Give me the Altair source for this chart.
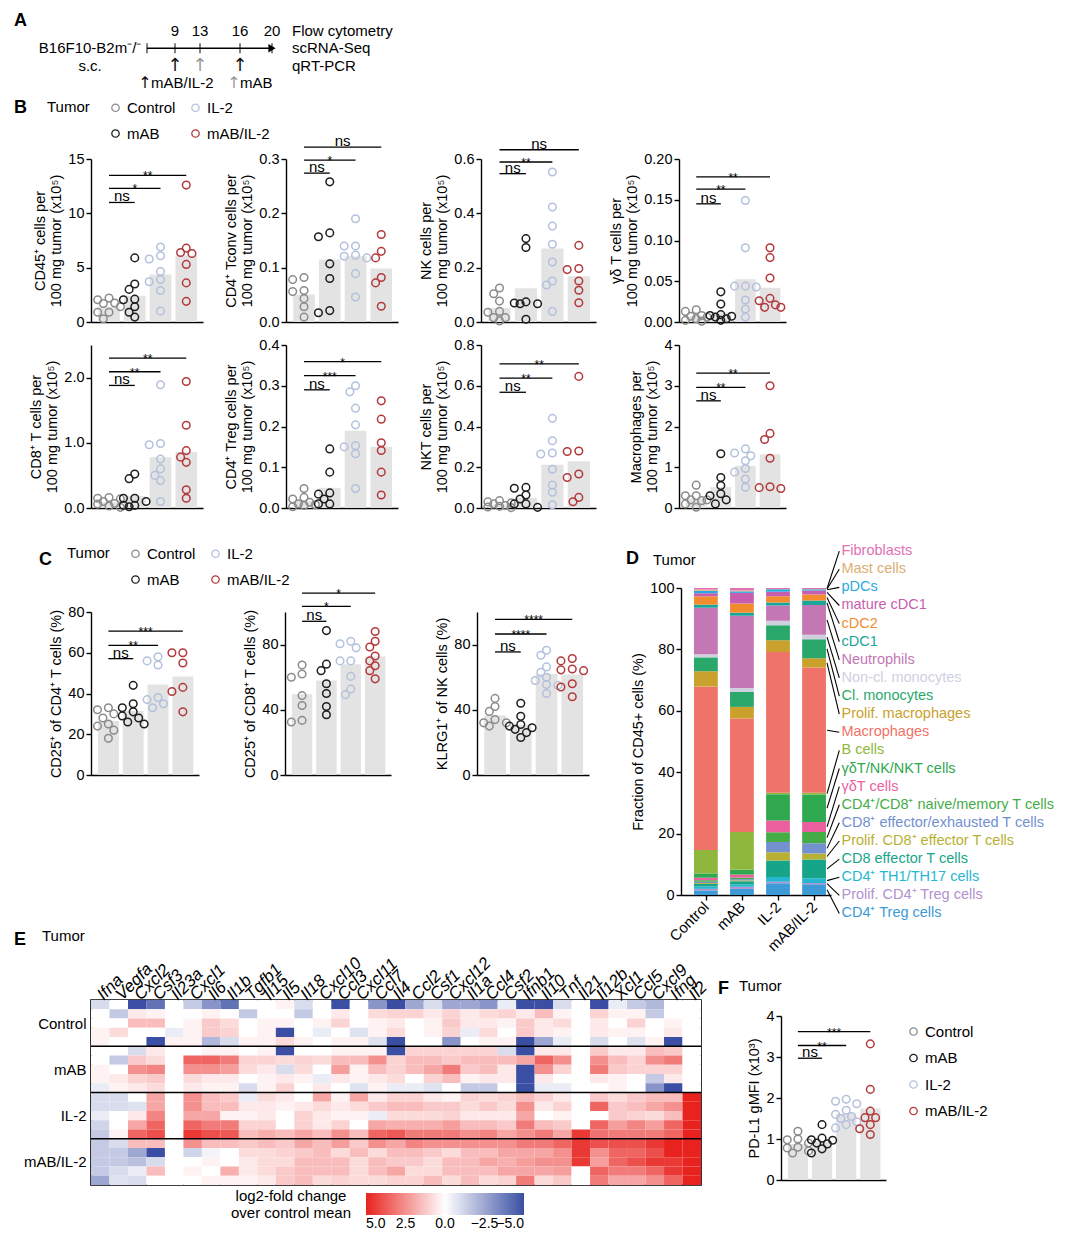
import altair as alt
import pandas as pd
import numpy as np

FONT = "Liberation Sans"
GROUPS = ["Control", "mAB", "IL-2", "mAB/IL-2"]
COLORS = {"Control": "#8c8c8c", "mAB": "#1e1e1e", "IL-2": "#b4c1dc", "mAB/IL-2": "#b3393b"}
BAR_COLOR = "#e3e3e3"

# ---------------- Panel A (timeline) ----------------
LANES = ["days", "line", "arrows", "legend"]
day_ticks = [9, 13, 16, 20]
line_days = [0, 9, 13, 16, 20]
dose_days = [9, 13, 16]
dose_kind = ["mAB/IL-2", "mAB", "mAB/IL-2"]
readouts = ["Flow cytometry", "scRNA-Seq", "qRT-PCR"]
model_text = ["B16F10-B2m⁻/⁻", "s.c."]
dose_legend = ["mAB/IL-2", "mAB"]

# ---------------- Panel B ----------------
cd45 = {"Control": [2.2, 2.05, 1.75, 1.7, 1.4, 0.9, 0.9, 0.3],
        "mAB": [5.9, 3.5, 3.0, 2.1, 2.05, 1.4, 0.9, 0.45],
        "IL-2": [6.9, 6.1, 5.8, 4.65, 3.9, 3.7, 2.9, 1.0],
        "mAB/IL-2": [12.6, 6.8, 6.4, 6.3, 5.3, 3.6, 1.9]}
tconv = {"Control": [0.082, 0.078, 0.058, 0.056, 0.043, 0.028, 0.009],
         "mAB": [0.258, 0.164, 0.157, 0.107, 0.080, 0.021, 0.017],
         "IL-2": [0.19, 0.14, 0.14, 0.123, 0.121, 0.118, 0.089, 0.046],
         "mAB/IL-2": [0.161, 0.130, 0.118, 0.082, 0.072, 0.029]}
nk = {"Control": [0.125, 0.104, 0.077, 0.039, 0.036, 0.016, 0.016, 0.004],
      "mAB": [0.307, 0.274, 0.074, 0.07, 0.067, 0.067, 0.01],
      "IL-2": [0.552, 0.423, 0.353, 0.286, 0.221, 0.151, 0.136, 0.039],
      "mAB/IL-2": [0.282, 0.197, 0.193, 0.151, 0.117, 0.071]}
gdt = {"Control": [0.015, 0.013, 0.008, 0.007, 0.006, 0.004, 0.002, 0.001],
       "mAB": [0.037, 0.022, 0.009, 0.008, 0.007, 0.006, 0.004, 0.002],
       "IL-2": [0.149, 0.091, 0.044, 0.043, 0.044, 0.027, 0.016, 0.006],
       "mAB/IL-2": [0.091, 0.079, 0.054, 0.029, 0.026, 0.021, 0.018, 0.018]}
cd8 = {"Control": [0.16, 0.15, 0.14, 0.1, 0.07, 0.06, 0.03, 0.01],
       "mAB": [0.52, 0.45, 0.15, 0.15, 0.1, 0.04, 0.04, 0.02],
       "IL-2": [1.89, 0.99, 0.97, 0.75, 0.6, 0.5, 0.42, 0.1],
       "mAB/IL-2": [1.94, 1.27, 0.88, 0.78, 0.70, 0.28, 0.15]}
treg = {"Control": [0.048, 0.026, 0.022, 0.014, 0.01, 0.008, 0.006, 0.003],
        "mAB": [0.145, 0.088, 0.037, 0.034, 0.022, 0.01, 0.01],
        "IL-2": [0.30, 0.285, 0.245, 0.204, 0.153, 0.15, 0.133, 0.048],
        "mAB/IL-2": [0.263, 0.218, 0.16, 0.141, 0.088, 0.032]}
nkt = {"Control": [0.036, 0.03, 0.025, 0.02, 0.012, 0.008, 0.005, 0.002],
       "mAB": [0.101, 0.097, 0.064, 0.044, 0.02, 0.02, 0.003],
       "IL-2": [0.44, 0.33, 0.27, 0.265, 0.19, 0.113, 0.077, 0.016],
       "mAB/IL-2": [0.646, 0.28, 0.277, 0.167, 0.15, 0.052, 0.031]}
macro = {"Control": [0.56, 0.30, 0.30, 0.2, 0.2, 0.18, 0.1, 0.02],
         "mAB": [1.33, 0.75, 0.55, 0.35, 0.3, 0.2, 0.1],
         "IL-2": [1.45, 1.35, 1.28, 1.16, 0.97, 0.88, 0.71, 0.51],
         "mAB/IL-2": [3.0, 1.83, 1.68, 1.22, 0.52, 0.5, 0.48]}

# ---------------- Panel C ----------------
cd25_cd4 = {"Control": [33, 32, 30, 28, 25, 24, 22, 18],
            "mAB": [44, 35, 33, 31, 29, 28, 26, 25],
            "IL-2": [58, 56, 54, 38, 37, 35, 33],
            "mAB/IL-2": [60, 60, 55, 43, 41, 31]}
cd25_cd8 = {"Control": [67.5, 62, 60, 48.7, 42.6, 33.5, 32.5],
            "mAB": [88.6, 68, 64, 56, 50, 42, 37],
            "IL-2": [82, 80.5, 78, 70, 70, 60.5, 52.7, 49.3],
            "mAB/IL-2": [88, 82, 78.5, 73, 70, 67, 64, 59]}
klrg1 = {"Control": [47, 42, 39, 34, 32, 32, 30],
         "mAB": [44, 36, 31, 30, 29, 28, 26, 23],
         "IL-2": [76.5, 73.5, 66.3, 63, 60, 58, 55.5, 55, 50],
         "mAB/IL-2": [71.5, 70, 65, 64.5, 64, 56, 54, 48]}

# ---------------- Panel F ----------------
pdl1 = {"Control": [1.19, 1.0, 0.98, 0.9, 0.8, 0.78, 0.71, 0.66],
        "mAB": [1.35, 1.02, 0.98, 0.97, 0.9, 0.88, 0.76, 0.66],
        "IL-2": [1.97, 1.92, 1.86, 1.7, 1.6, 1.55, 1.5, 1.42, 1.35, 1.27],
        "mAB/IL-2": [3.32, 2.21, 1.68, 1.52, 1.52, 1.35, 1.25, 1.11]}

# ---------------- Panel D ----------------
D_CELLS = ["CD4⁺ Treg cells", "Prolif. CD4⁺ Treg cells", "CD4⁺ TH1/TH17 cells",
           "CD8 effector T cells", "Prolif. CD8⁺ effector T cells",
           "CD8⁺ effector/exhausted T cells", "CD4⁺/CD8⁺ naive/memory T cells",
           "γδT cells", "γδT/NK/NKT cells", "B cells", "Macrophages",
           "Prolif. macrophages", "Cl. monocytes", "Non-cl. monocytes", "Neutrophils",
           "cDC1", "cDC2", "mature cDC1", "pDCs", "Mast cells", "Fibroblasts"]
D_COLORS = ["#3d9ad6", "#b391cf", "#26b7d0", "#17a589", "#b8b032", "#7390cf", "#45ad48",
            "#ec5f9e", "#2fa84f", "#8fb73e", "#f07369", "#c9a12c", "#2aa86b", "#cfd0de",
            "#c377b5", "#1ba59a", "#f28c2f", "#c85eb0", "#2aa9e0", "#dcae72", "#e371b4"]
d_control = [1.5, 0.5, 0.8, 0.8, 0.3, 0.4, 0.5, 0.8, 1.4, 7.6, 53.0, 5.0, 4.5, 1.0, 15.1, 1.0, 2.7, 1.0, 0.8, 0.4, 0.5]
d_mab = [2.0, 0.7, 0.8, 1.0, 0.3, 0.4, 0.5, 1.0, 1.6, 12.4, 37.2, 3.8, 4.9, 1.3, 23.7, 1.0, 3.0, 3.5, 0.5, 0.3, 0.8]
d_il2 = [3.8, 0.5, 1.6, 5.4, 2.7, 3.3, 3.2, 3.8, 8.6, 0.5, 46.0, 3.8, 4.9, 1.5, 5.0, 1.0, 2.0, 1.5, 0.8, 0.1, 0.3]
d_combo = [3.5, 0.4, 1.6, 6.1, 2.0, 3.3, 3.7, 3.3, 9.0, 0.5, 41.0, 3.0, 6.2, 1.5, 9.7, 1.5, 2.0, 1.3, 0.4, 0.1, 0.3]

# ---------------- Panel E ----------------
GENES = ["Ifna", "Vegfa", "Cxcl2", "Csf3", "Il23a", "Cxcl1", "Il6", "Il1b", "Tgfb1", "Il15", "Il5",
         "Il18", "Cxcl10", "Ccl3", "Cxcl11", "Ccl7", "Il4", "Ccl2", "Csf1", "Cxcl12", "Il1a", "Ccl4",
         "Csf2", "Ifnb1", "Il10", "Tnf", "Il21", "Il12b", "Xcl1", "Ccl5", "Cxcl9", "Ifng", "Il2"]
hm_control = [
    [-1, 0, -5, -4, 0, -1.5, -3, -4, 0, 0, 0.3, -1, 0, -5, 0, -3, -5, -2.5, -1, -2.5, -2.5, -3, -0.5, -5, -5, -1, 0, -5, -0.5, -1.5, -2, 0, 0],
    [0, -1.5, 0.5, 0.3, 0, 0, 0.3, 0, -1.5, 0, 0, -1.5, 0, 0.5, 0, 0.8, 1, 1, 0.5, 1, 0.5, 0.8, 1, 0.5, 1.5, 0.3, 0, 1, 0.3, 0.3, -1.5, 0, 0],
    [0, 0, 1.5, 1.5, 0, 0.3, 1.2, 0.8, 0, 0.3, 0.3, 0, 0.3, 1.0, 0, 0.3, 0.5, 0, 0.3, 1.2, 0.5, 0.5, 0.3, 1.2, 0.5, 0.8, 0, 0.5, 0, 1, 0, 0.3, 0],
    [0.3, 0.8, 0, 0, -0.5, 0.3, 1.2, 1.0, 0, 0.3, -5, 0, -0.5, 0, -0.8, 0.3, 0.8, 0, 0.3, 1.0, -0.5, 0.8, 0, 1.2, 0.5, 0.3, 0, 0.5, 0.3, 0.3, 0, 0.5, 0],
    [0.3, 0, 0, -5, 0.3, 0.3, -2, -1, 0.3, 0.3, 0.8, 0.3, 0, 0.3, 0.3, -0.8, -5, 0, 0, -3, 0, 0.3, 0.3, -5, -2.5, -0.5, 0, -1, 0, -0.8, 0.3, -5, 0],
]
hm_mab = [
    [0, 0, -1, 0.5, 0, 0, 0.3, 0.3, 0, 0.3, -5, 0, 0, 0.3, 0.3, 0.3, -5, 1, 1, 1, 1, 1, -1, -5, 0.5, 0.5, 0, 1.2, 0.5, 0.5, 1.5, 1.2, 0],
    [0, -1.5, 1.2, 0.8, 0, 3.5, 3.5, 3, 1, 1, 0.8, 1, 0.8, 1.5, 1.5, 2.5, 1, 1.5, 1.5, 1.2, 1.5, 1.5, 1.5, 2, 3.5, 2.5, 0, 2.5, 1.5, 1, 2.5, 3, 0],
    [0.3, 0, 2.5, 2.8, 0, 2.5, 2.5, 2.2, 0.8, 0.5, -1, 0.8, 0, 2.2, 0.3, 1.5, 1, 1.5, 2, 3, 1.2, 1.5, 0.5, -5, 2.5, 1, 0, 3, 1.2, 1, 1, 1, 0],
    [0.3, 0.5, 1, 1.2, 0, 0.8, 0.5, 0.5, 0, 0.3, 0.5, 0.3, -0.5, 0.5, 0.3, 0.5, 0.8, 0, 1, 1.5, 0.3, 0.5, 0.5, -5, 0.5, 0, 0, 0.5, 0.3, 0, -1.5, 0.5, 0],
    [-0.5, 0.3, 0.5, 0.8, 0, 0.5, 0.3, 0.3, -1, 0.3, 1, 0, 0.5, 0, -0.8, 0.3, -0.5, -0.5, -0.8, 0, -1.5, -1.5, 0, -5, -0.5, -0.5, 0, 0, 0.3, 0, -3, -5, 0],
]
hm_il2 = [
    [-1, -1, 0, 2, 0, 2.5, 1.5, 1.2, -0.5, 0.8, 0.5, 0, 2, 0.3, 2, 0.5, 1, 1, 0.5, 0.3, 1, 0.8, 1, 1.5, 1, 0.5, 0, 1.2, 0.8, 1.2, 1.5, 1.5, 5],
    [-1, -1, -0.8, 2, 0, 2.5, 1.5, 1.5, 0.5, 0.5, 0.3, 0.5, 0.8, 0.5, 0.8, 1.2, 1.5, 1.5, 1.2, 1.2, 0.8, 1.2, 0.8, 2.5, 0.5, 1, 0, 3.5, 1.2, 1.5, 2, 2.5, 5],
    [-0.5, 0, 0.5, 2.8, 0, 2, 2, 0.3, 0.3, 0.5, 0, 1, 0.5, 0.3, 0.3, -0.5, 0.8, 0.8, 0.8, 1, 0.5, 0.5, 0.5, 2, 0, 0.3, 0, 0, 1.2, 1, 0.8, 1.5, 5],
    [-1.2, 0, 2, 3.5, 0, 3.5, 3, 3, 1, 1, 0, 1, 0.5, 1, 0, 2, 1.8, 1.8, 1.8, 2.2, 1.5, 1.5, 1.2, 3, 1.5, 1.2, 0, 3.5, 2.2, 2.8, 2.2, 3.5, 5],
    [-1.5, 0.3, 3.5, 4, 0, 4.5, 4, 3.8, 1.5, 1.8, 1.5, 2, 1.5, 2.5, 1.5, 3.5, 3.8, 3, 3, 3, 2.5, 2.8, 2, 2.5, 3, 2, 4.5, 3.2, 3, 3, 3, 3.5, 5],
]
hm_combo = [
    [-1.5, -1, 1.5, 1.5, 0, 2.5, 1.5, 1.5, 1.2, 1.5, 1.2, 2, 1.5, 2.2, 1.2, 2.5, 2, 2.8, 2.5, 2.5, 2.5, 2.5, 2.5, 3, 3, 3.5, 4.5, 4, 4, 4, 4.5, 5, 5],
    [-1.5, -1.5, -2.5, -5, 0, -1.2, -0.3, 0, 0.8, 0.8, 1, 1.2, 1.5, 0.8, 1.5, 0.8, 1.5, 1.5, 1.2, 0.8, 1.5, 1.5, 2, 2, 2, 2.5, 4.5, 2.5, 3.5, 3.5, 4, 5, 5],
    [-1.5, -1.5, -1.8, -1, 0, 0, 0.3, 0, 0.5, 0.8, 0.8, 1.5, 1.5, 1.5, 0.8, 1.5, 1.2, 1.2, 0.8, 1.5, 1.5, 2, 1.8, 2.2, 2.5, 2.5, 4.5, 2.2, 3.5, 4, 4.5, 4.5, 5],
    [-1.5, -1, -0.5, 1.5, 0, 0.3, 0, 1.8, 0.5, 0.8, 1.2, 1.5, 1.5, 1.5, 0.8, 1.5, 2, 0.8, 0.8, 1.5, 1.5, 1.5, 2, 2, 2, 2.2, 0, 3.5, 3, 3, 3.5, 4.5, 5],
    [-2.5, -0.8, -1, 0, 0, 0, 0.3, 0.3, 0.3, 0.5, 1.2, 1.5, 0.8, 1, 0.8, 0.8, 1, 1, 1.5, 0.8, 1.5, 0.8, 1, 3, 0.8, 1.2, 0, 3, 2, 2, 2.5, 3.5, 5],
]

# ====================================================================
XMIN, XMAX = -0.7, 3.65


def spacer(h):
    return alt.Chart(pd.DataFrame({"v": [0]})).mark_point(opacity=0).encode(
        x=alt.X("v:Q", axis=None), y=alt.Y("v:Q", axis=None)).properties(width=1, height=h)


def beeswarm(vals, gi, w, h, ymax):
    xppu = w / (XMAX - XMIN)
    yppu = h / ymax
    cands = [0.0, -0.22, 0.22, -0.44, 0.44]
    placed, out = [], []
    for v in sorted(vals, reverse=True):
        best, bestd = 0.0, -1.0
        for off in cands:
            d = min([np.hypot((off - po) * xppu, (v - pv) * yppu) for po, pv in placed], default=1e9)
            if d >= 7.0:
                best = off
                break
            if d > bestd:
                best, bestd = off, d
        placed.append((best, v))
        out.append((gi + best, v))
    return out


def letter(t, dx, offset):
    return alt.TitleParams(t, anchor="start", frame="group", fontSize=18, fontWeight="bold",
                           dx=dx, offset=offset, font=FONT)


def tumor(dx, offset):
    return alt.TitleParams("Tumor", anchor="start", frame="group", fontSize=15, fontWeight="normal",
                           dx=dx, offset=offset, font=FONT)


def dot_panel(vals, ymax, ystep, fmt, ytitle, sig_y, sig_lab, w, h=163, legend=None, title=None):
    rows = []
    for gi, g in enumerate(GROUPS):
        for xj, v in beeswarm(vals[g], gi, w, h, ymax):
            rows.append({"grp": g, "gi": gi, "value": v, "xj": xj})
    df = pd.DataFrame(rows)
    xs = alt.Scale(domain=[XMIN, XMAX], nice=False, zero=False)
    ys = alt.Scale(domain=[0, ymax], nice=False, zero=True)
    n = int(round(ymax / ystep))
    ticks = [round(i * ystep, 6) for i in range(n + 1)]
    base = alt.Chart(df)
    bars = base.transform_aggregate(m="mean(value)", groupby=["gi"]).transform_calculate(
        x0="datum.gi - 0.42", x1="datum.gi + 0.42", z="0").mark_rect(color=BAR_COLOR).encode(
        x=alt.X("x0:Q", scale=xs, axis=alt.Axis(title=None, labels=False, ticks=False, grid=False)),
        x2="x1:Q",
        y=alt.Y("m:Q", scale=ys, axis=alt.Axis(values=ticks, format=fmt, title=ytitle, grid=False,
                                               titlePadding=4)),
        y2="z:Q")
    pts = base.mark_point(shape="circle", filled=False, size=58, strokeWidth=1.5, opacity=1).encode(
        x="xj:Q", y="value:Q",
        color=alt.Color("grp:N", scale=alt.Scale(domain=GROUPS, range=[COLORS[g] for g in GROUPS]),
                        legend=legend))
    sdf = pd.DataFrame({"g1": [0, 0, 0], "g2": [1, 2, 3], "lev": sig_y, "lab": sig_lab})
    sb = alt.Chart(sdf).transform_calculate(xm="(datum.g1 + datum.g2) / 2")
    srule = sb.mark_rule(color="black", strokeWidth=1.3).encode(x="g1:Q", x2="g2:Q", y="lev:Q")
    s_ns = sb.transform_filter("datum.lab == 'ns'").mark_text(
        baseline="alphabetic", dy=-1, fontSize=15, font=FONT, color="black").encode(
        x="xm:Q", y="lev:Q", text="lab:N")
    s_st = sb.transform_filter("datum.lab != 'ns'").mark_text(
        baseline="middle", dy=1, fontSize=12, font=FONT, color="black").encode(
        x="xm:Q", y="lev:Q", text="lab:N")
    props = dict(width=w, height=h)
    if title is not None:
        props["title"] = title
    return alt.layer(bars, pts, srule, s_ns, s_st).properties(**props)


def group_legend(lx, ly):
    return alt.Legend(title="Tumor", orient="none", legendX=lx, legendY=ly, columns=2, titleOrient="left",
                      titleAnchor="start", titleBaseline="top",
                      labelFontSize=15, titleFontSize=15, titleFontWeight="normal", symbolSize=55,
                      symbolStrokeWidth=1.3, columnPadding=12, rowPadding=10, titlePadding=18,
                      labelFont=FONT, titleFont=FONT, labelColor="black", titleColor="black")


# ---------------- A ----------------
# schematic (not-to-scale) timeline axis, piecewise linear between the marked days
xsA = alt.Scale(domain=line_days, range=[56, 84, 109, 149, 181])
yA = alt.Y("lane:N", scale=alt.Scale(domain=LANES, paddingInner=0, paddingOuter=0), axis=None)
a_days = alt.Chart(pd.DataFrame({"day": day_ticks, "lane": "days"})).mark_text(
    fontSize=15, font=FONT, color="black").encode(
    x=alt.X("day:Q", scale=xsA, axis=None), y=yA, text="day:N")
a_line = alt.Chart(pd.DataFrame({"d0": [line_days[0]], "d1": [line_days[-1]], "lane": ["line"]})).mark_rule(
    strokeWidth=1.4, color="black").encode(x=alt.X("d0:Q", axis=None), x2="d1:Q", y=yA)
a_ticks = alt.Chart(pd.DataFrame({"day": line_days, "lane": "line"})).mark_tick(
    size=10, thickness=1.4, color="black").encode(x=alt.X("day:Q", axis=None), y=yA)
a_head = alt.Chart(pd.DataFrame({"day": [line_days[-1]], "lane": ["line"]})).mark_point(
    shape="triangle-right", filled=True, size=70, color="black", opacity=1, dx=-4).encode(
    x=alt.X("day:Q", axis=None), y=yA)
dose_color = alt.Color("kind:N", scale=alt.Scale(domain=["mAB/IL-2", "mAB"], range=["#111111", "#9a9a9a"]),
                       legend=None)
a_arrows = alt.Chart(pd.DataFrame({"day": dose_days, "kind": dose_kind, "lane": "arrows"})).mark_text(
    text="↑", fontSize=18, font="DejaVu Sans").encode(x=alt.X("day:Q", axis=None), y=yA, color=dose_color)
a_leg_df = pd.DataFrame({"kind": dose_legend, "day": [-0.64, 15.55], "lane": "legend"})
a_leg_ar = alt.Chart(a_leg_df).mark_text(text="↑", fontSize=16, font="DejaVu Sans").encode(
    x=alt.X("day:Q", axis=None), y=yA, color=dose_color)
a_leg_tx = alt.Chart(a_leg_df).mark_text(align="left", dx=6, fontSize=15, font=FONT, color="black").encode(
    x=alt.X("day:Q", axis=None), y=yA, text="kind:N")
a_model = alt.Chart(pd.DataFrame({"t": model_text, "lane": ["line", "arrows"], "day": -18.3})).mark_text(
    fontSize=15, font=FONT, color="black").encode(x=alt.X("day:Q", axis=None), y=yA, text="t:N")
a_read = alt.Chart(pd.DataFrame({"t": readouts, "lane": ["days", "line", "arrows"], "day": 22.5})).mark_text(
    fontSize=15, font=FONT, color="black", align="left").encode(x=alt.X("day:Q", axis=None), y=yA, text="t:N")
A = alt.layer(a_days, a_line, a_ticks, a_head, a_arrows, a_leg_ar, a_leg_tx, a_model, a_read).properties(
    width=181, height=70, title=letter("A", -77, -8))

# ---------------- B ----------------
b1 = dot_panel(cd45, 15, 5, "d", ["CD45⁺ cells per", "100 mg tumor (x10⁵)"], [11.0, 12.3, 13.5],
               ["ns", "*", "**"], 112, legend=group_legend(-44, -59), title=letter("B", -77, -17))
b2 = dot_panel(tconv, 0.3, 0.1, ".1f", ["CD4⁺ Tconv cells per", "100 mg tumor (x10⁵)"], [0.274, 0.298, 0.322],
               ["ns", "*", "ns"], 112)
b3 = dot_panel(nk, 0.6, 0.2, ".1f", ["NK cells per", "100 mg tumor (x10⁵)"], [0.546, 0.589, 0.634],
               ["ns", "**", "ns"], 115)
b4 = dot_panel(gdt, 0.2, 0.05, ".2f", ["γδ T cells per", "100 mg tumor (x10⁵)"], [0.145, 0.163, 0.178],
               ["ns", "**", "**"], 107)
b5 = dot_panel(cd8, 2.5, 0.5, ".1f", ["CD8⁺ T cells per", "100 mg tumor (x10⁵)"], [1.88, 2.09, 2.30],
               ["ns", "**", "**"], 112)
b6 = dot_panel(treg, 0.4, 0.1, ".1f", ["CD4⁺ Treg cells per", "100 mg tumor (x10⁵)"], [0.29, 0.325, 0.359],
               ["ns", "***", "*"], 112)
b7 = dot_panel(nkt, 0.8, 0.2, ".1f", ["NKT cells per", "100 mg tumor (x10⁵)"], [0.568, 0.637, 0.707],
               ["ns", "**", "**"], 115)
b8 = dot_panel(macro, 4, 1, "d", ["Macrophages per", "100 mg tumor (x10⁵)"], [2.63, 2.96, 3.31],
               ["ns", "**", "**"], 107)
Brow1 = alt.hconcat(b1, b2, b3, b4, spacing=83, bounds="flush").resolve_scale(color="independent")
Brow2 = alt.hconcat(b5, b6, b7, b8, spacing=83, bounds="flush").resolve_scale(color="independent")

# ---------------- C ----------------
c1 = dot_panel(cd25_cd4, 80, 20, "d", "CD25⁺ of CD4⁺ T cells (%)", [57.1, 63.6, 70.6], ["ns", "**", "***"],
               108, legend=group_legend(-24, -66), title=letter("C", -52, -23))
c2 = dot_panel(cd25_cd8, 100, 20, "d", "CD25⁺ of CD8⁺ T cells (%)", [94.3, 103.4, 111.6], ["ns", "*", "*"], 106)
c3 = dot_panel(klrg1, 100, 20, "d", "KLRG1⁺ of NK cells (%)", [75.5, 86.5, 95.5], ["ns", "****", "****"], 112)
Crow = alt.hconcat(c1, c2, c3, spacing=86, bounds="flush").resolve_scale(color="independent")
Cblock = alt.vconcat(spacer(1), Crow, spacing=-46).resolve_scale(color="independent")

# ---------------- D ----------------
drows = []
for gi, vals in enumerate([d_control, d_mab, d_il2, d_combo]):
    for ci, (cell, v) in enumerate(zip(D_CELLS, vals)):
        drows.append({"gi": gi, "ci": ci, "cell": cell, "pct": v})
ddf = pd.DataFrame(drows)
dxs = alt.Scale(domain=[-0.69, 3.47], nice=False, zero=False)
dys = alt.Scale(domain=[0, 100], nice=False)
dcol = alt.Color("cell:N", scale=alt.Scale(domain=D_CELLS, range=D_COLORS), legend=None)
dbase = alt.Chart(ddf).transform_joinaggregate(tot="sum(pct)", groupby=["gi"]).transform_calculate(
    p="datum.pct / datum.tot * 100").transform_stack(
    stack="p", groupby=["gi"], as_=["y0", "y1"], sort=[alt.SortField("ci", "ascending")])
d_bars = dbase.transform_calculate(x0="datum.gi - 0.33", x1="datum.gi + 0.33").mark_rect().encode(
    x=alt.X("x0:Q", scale=dxs, axis=alt.Axis(values=[0, 1, 2, 3], title=None, grid=False,
                                             labelExpr="['Control','mAB','IL-2','mAB/IL-2'][datum.value]",
                                             labelAngle=315, labelAlign="right", labelBaseline="middle",
                                             labelFontSize=15, labelPadding=4, labelOverlap=False)),
    x2="x1:Q",
    y=alt.Y("y0:Q", scale=dys, axis=alt.Axis(values=[0, 20, 40, 60, 80, 100], title="Fraction of CD45+ cells (%)",
                                             grid=False)),
    y2="y1:Q", color=dcol)
nD = len(D_CELLS)
d_lab = dbase.transform_filter("datum.gi == 3").transform_calculate(
    mid="(datum.y0 + datum.y1) / 2",
    laby="112 - (%d - datum.ci) * 5.9" % (nD - 1),
    lx0="datum.gi + 0.36", lx1="datum.gi + 0.70", tx="datum.gi + 0.76")
d_lines = d_lab.mark_rule(color="black", strokeWidth=1.1).encode(x="lx0:Q", x2="lx1:Q", y="mid:Q", y2="laby:Q")
d_text = d_lab.mark_text(align="left", baseline="middle", fontSize=14.5, font=FONT).encode(
    x="tx:Q", y="laby:Q", text="cell:N", color=dcol)
Dch = alt.layer(d_bars, d_lines, d_text).properties(width=150, height=307, title=letter("D", -55, -25))
Dw = alt.vconcat(Dch, spacing=0, title=tumor(-28, -25))

CD = alt.hconcat(Cblock, Dw, spacing=35).resolve_scale(color="independent")

# ---------------- E ----------------
erows = []
for gi, block in enumerate([hm_control, hm_mab, hm_il2, hm_combo]):
    for k, row in enumerate(block):
        r = gi * 5 + k
        for gene, v in zip(GENES, row):
            erows.append({"r": r, "r1": r + 1, "gene": gene, "lfc": v})
edf = pd.DataFrame(erows)
legE = alt.Legend(title=["log2-fold change", "over control mean"], orient="none", legendX=140, legendY=193,
                  direction="horizontal", gradientLength=158, gradientThickness=22, titleOrient="left",
                  values=[5, 2.5, 0, -2.5, -5], format=".1f", labelFontSize=14, titleFontSize=15,
                  titleFontWeight="normal", titleAlign="center", titlePadding=-46,
                  labelAlign="center", labelOverlap=False, labelFont=FONT, titleFont=FONT,
                  labelColor="black", titleColor="black")
e_rect = alt.Chart(edf).mark_rect().encode(
    x=alt.X("gene:N", sort=GENES, scale=alt.Scale(paddingInner=0, paddingOuter=0),
            axis=alt.Axis(orient="top", labelAngle=315, labelFontStyle="italic", ticks=False, domain=False,
                          title=None, labelFontSize=17, labelPadding=3, labelAlign="left",
                          labelBaseline="middle")),
    y=alt.Y("r:Q", scale=alt.Scale(domain=[0, 20], reverse=True, nice=False),
            axis=alt.Axis(values=[2.5, 7.5, 12.5, 17.5], ticks=False, domain=False, title=None,
                          labelExpr="datum.value < 5 ? 'Control' : datum.value < 10 ? 'mAB' : "
                                    "datum.value < 15 ? 'IL-2' : 'mAB/IL-2'",
                          labelFontSize=15, labelPadding=5)),
    y2="r1:Q",
    color=alt.Color("lfc:Q", scale=alt.Scale(domain=[5, 0, -5], range=["#e8231f", "#ffffff", "#3a4fa3"],
                                             interpolate="rgb"),
                    legend=legE))
e_sep = alt.Chart(pd.DataFrame({"b": [5, 10, 15]})).mark_rule(color="black", strokeWidth=1.6).encode(y="b:Q")
E = alt.layer(e_rect, e_sep).properties(width=610, height=185, title=letter("E", -77, 5),
                                        view=alt.ViewBackground(stroke="black", strokeWidth=1.6))
Ew = alt.vconcat(E, spacing=0, title=tumor(-49, -14)).resolve_scale(color="independent")

# ---------------- F ----------------
legF = alt.Legend(title=None, orient="none", legendX=125, legendY=8, direction="vertical",
                  labelFontSize=15, symbolSize=55, symbolStrokeWidth=1.3, rowPadding=10.5,
                  labelFont=FONT, labelColor="black")
Fch = dot_panel(pdl1, 4, 1, "d", "PD-L1 gMFI (x10³)", [2.97, 3.28, 3.62], ["ns", "**", "***"], 105, h=164,
                legend=legF, title=letter("F", -63, 10))
Fwrap = alt.vconcat(Fch, spacing=0, title=tumor(-42, -14)).resolve_scale(color="independent")
Fblock = alt.vconcat(spacer(1), Fwrap, spacing=-25).resolve_scale(color="independent")

EF = alt.hconcat(Ew, Fblock, spacing=7).resolve_scale(color="independent")

CDEF = alt.vconcat(CD, EF, spacing=-25).resolve_scale(color="independent")

chart = alt.vconcat(A, spacer(5), Brow1, spacer(8), Brow2, spacer(28), CDEF,
                    spacing=0, padding={"left": 5, "top": 4, "right": 5, "bottom": 5}).resolve_scale(color="independent")
chart = chart.configure(font=FONT).configure_view(stroke=None).configure_axis(
    domainColor="black", tickColor="black", labelColor="black", titleColor="black",
    labelFontSize=14.5, titleFontSize=14.5, domainWidth=1.4, tickWidth=1.4, tickSize=5,
    labelFont=FONT, titleFont=FONT, titleFontWeight="normal", grid=False).configure_title(
    font=FONT, color="black")

chart.save("out.html", embed_options={"renderer": "svg", "actions": False})
